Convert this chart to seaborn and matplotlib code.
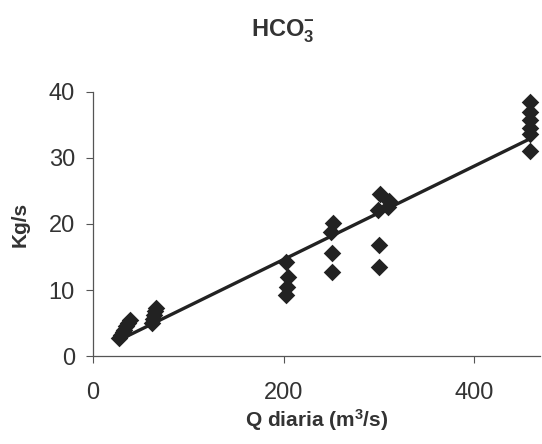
import numpy as np
import pandas as pd
import matplotlib
matplotlib.use("Agg")
import matplotlib.pyplot as plt
import seaborn as sns

# Daily discharge (m3/s) and bicarbonate load (kg/s)
q_diaria = [27, 29, 31, 33, 35, 37, 39,
            62, 63, 64, 65, 66,
            203, 204, 205, 203,
            251, 251, 250, 252,
            300, 300, 299, 301, 311, 309,
            458, 458, 458, 458, 458, 458]
carga = [2.8, 3.2, 3.6, 4.0, 4.5, 5.0, 5.4,
         5.0, 5.6, 6.2, 6.8, 7.3,
         9.2, 10.4, 12.0, 14.3,
         12.7, 15.6, 18.8, 20.2,
         13.5, 16.8, 22.1, 24.6, 23.5, 22.6,
         31.0, 33.6, 34.5, 35.8, 37.0, 38.5]

x_ticks = [0, 200, 400]
y_ticks = [0, 10, 20, 30, 40]

df = pd.DataFrame({"Q": q_diaria, "Kg": carga})

sns.set_theme(style="white")
plt.rcParams["font.family"] = ["Liberation Sans", "DejaVu Sans"]
plt.rcParams["mathtext.fontset"] = "custom"
plt.rcParams["mathtext.rm"] = "Liberation Sans"
plt.rcParams["mathtext.bf"] = "Liberation Sans:bold"
plt.rcParams["mathtext.it"] = "Liberation Sans:italic"
plt.rcParams["mathtext.default"] = "bf"

fig = plt.figure(figsize=(5.42, 4.44), dpi=100)
ax = fig.add_axes([0.1716, 0.198, 0.8247, 0.595])

ink = "#222222"
sns.regplot(data=df, x="Q", y="Kg", ax=ax, ci=None, marker="D",
            scatter_kws=dict(s=80, color=ink, linewidths=0, alpha=1),
            line_kws=dict(color=ink, linewidth=2.4))

ax.set_xlim(0, 469)
ax.set_ylim(0, 40)
ax.set_xticks(x_ticks)
ax.set_yticks(y_ticks)

for side in ["top", "right"]:
    ax.spines[side].set_visible(False)
for side in ["left", "bottom"]:
    ax.spines[side].set_color("#555555")
    ax.spines[side].set_linewidth(0.9)

ax.tick_params(axis="x", direction="out", length=5, width=0.8, color="#555555",
               labelsize=17, labelcolor="#333333", pad=14, bottom=True)
ax.tick_params(axis="y", direction="out", length=5, width=0.8, color="#555555",
               labelsize=17, labelcolor="#333333", pad=8, left=True)

ax.set_xlabel(r"Q diaria (m$^{3}$/s)", fontsize=15, fontweight="bold",
              color="#333333", labelpad=2)
ax.set_ylabel("Kg/s", fontsize=15, fontweight="bold", color="#333333", labelpad=14)

fig.text(0.522, 0.93, r"HCO$_{3}^{-}$", ha="center", va="center",
         fontsize=17, fontweight="bold", color="#333333")

fig.savefig("out.png", dpi=100, facecolor="white")
